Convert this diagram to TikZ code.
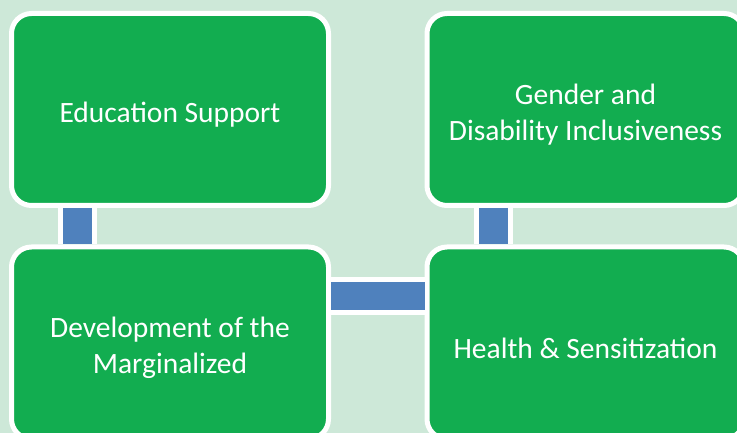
\documentclass[tikz,border=0pt]{standalone}
\usepackage{fontspec}
\setmainfont{Carlito}
\usetikzlibrary{positioning,calc}
\definecolor{boxgreen}{RGB}{18,173,80}
\definecolor{backgr}{RGB}{205,232,216}
\definecolor{linkblue}{RGB}{79,129,189}
\newcommand{\topstrut}{\rule{0pt}{31pt}}
\tikzset{
  topic/.style={draw=white,line width=5pt,fill=boxgreen,rounded corners=20pt,
    minimum width=317pt,minimum height=192pt,text=white,align=center,
    font=\fontsize{29.5}{36}\selectfont},
  link/.style={draw=white,line width=5pt,double=linkblue,double distance=29pt}
}
\begin{document}
\begin{tikzpicture}[x=1pt,y=1pt]
\useasboundingbox (0,0) rectangle (737,433);
\clip (0,0) rectangle (737,433);
\fill[backgr] (0,0) rectangle (737,433);

\node[topic] (edu) at (170,323.5) {\topstrut Education Support};
\node[topic] (gender) at (585.5,323.5) {\topstrut Gender and\\Disability Inclusiveness};
\node[topic] (dev) at (170,90) {\topstrut Development of the\\Marginalized};
\node[topic] (health) at (585.5,90) {\topstrut Health \& Sensitization};

\draw[link] ([xshift=-92.5pt]edu.south) -- ([xshift=-92.5pt]dev.north);
\draw[link] ([xshift=-92pt]gender.south) -- ([xshift=-92pt]health.north);
\draw[link,double distance=28pt] ([yshift=47pt]dev.east) -- ([yshift=47pt]health.west);
\end{tikzpicture}
\end{document}
